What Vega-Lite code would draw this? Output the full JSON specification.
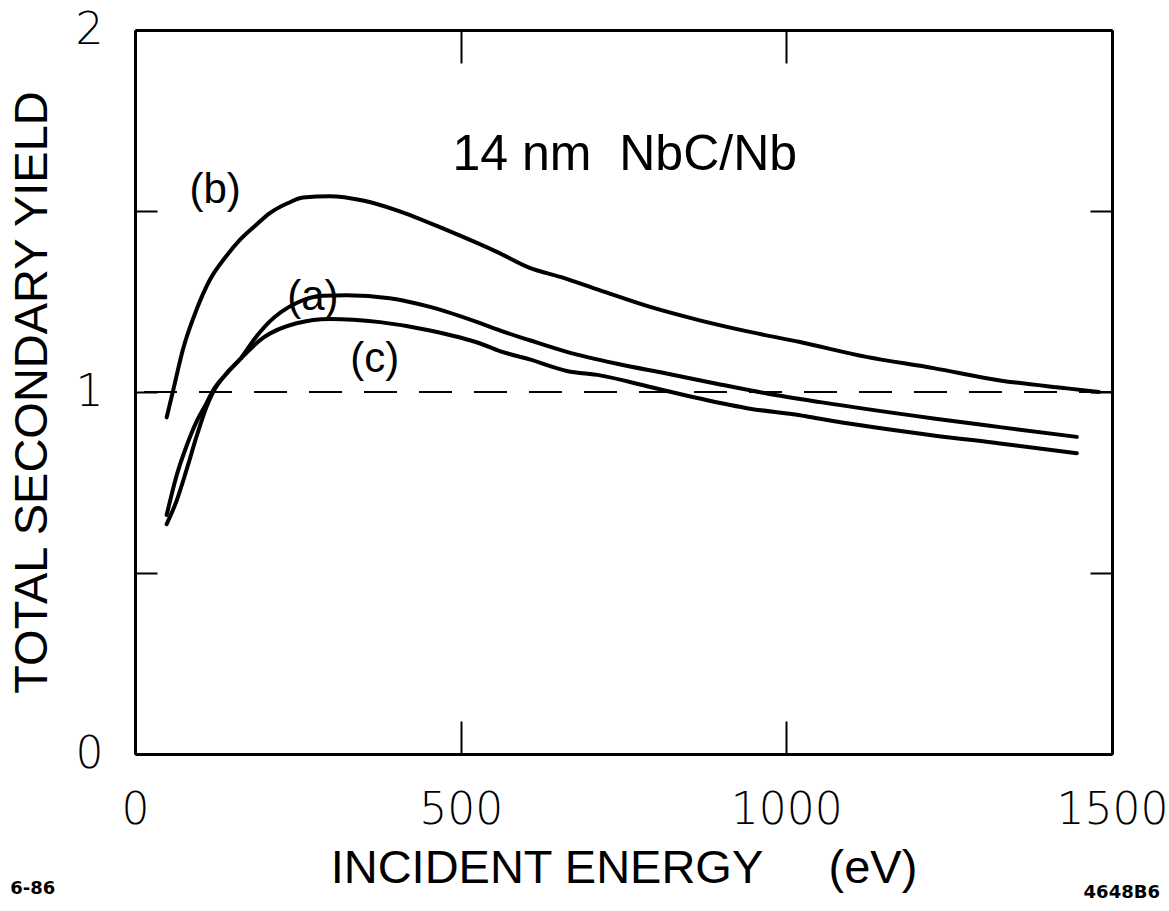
{
  "$schema": "https://vega.github.io/schema/vega-lite/v6.json",
  "width": 977,
  "height": 724,
  "autosize": {"type": "none"},
  "padding": {"left": 135, "top": 30, "right": 57, "bottom": 157},
  "background": "white",
  "config": {
    "view": {"stroke": null},
    "font": "Liberation Sans",
    "axis": {
      "domainColor": "black",
      "domainWidth": 3,
      "tickColor": "black",
      "tickWidth": 2,
      "grid": false,
      "labelFont": "DejaVu Sans",
      "labelFontSize": 44,
      "labelFontWeight": 200,
      "labelColor": "black",
      "labelOverlap": false,
      "titleFont": "Liberation Sans",
      "titleFontSize": 47,
      "titleFontWeight": "normal",
      "titleColor": "black"
    }
  },
  "datasets": {
    "curves": [
      {"curve": "b", "E": 48.6, "Y": 0.93},
      {"curve": "b", "E": 58, "Y": 1.0},
      {"curve": "b", "E": 74, "Y": 1.12},
      {"curve": "b", "E": 95, "Y": 1.23},
      {"curve": "b", "E": 115, "Y": 1.31},
      {"curve": "b", "E": 140, "Y": 1.375},
      {"curve": "b", "E": 161, "Y": 1.42},
      {"curve": "b", "E": 185, "Y": 1.46},
      {"curve": "b", "E": 207, "Y": 1.494},
      {"curve": "b", "E": 235, "Y": 1.522},
      {"curve": "b", "E": 258, "Y": 1.537},
      {"curve": "b", "E": 299, "Y": 1.541},
      {"curve": "b", "E": 350, "Y": 1.529},
      {"curve": "b", "E": 402, "Y": 1.502},
      {"curve": "b", "E": 479, "Y": 1.447},
      {"curve": "b", "E": 558, "Y": 1.385},
      {"curve": "b", "E": 606, "Y": 1.343},
      {"curve": "b", "E": 653, "Y": 1.318},
      {"curve": "b", "E": 714, "Y": 1.281},
      {"curve": "b", "E": 791, "Y": 1.235},
      {"curve": "b", "E": 867, "Y": 1.198},
      {"curve": "b", "E": 944, "Y": 1.166},
      {"curve": "b", "E": 1021, "Y": 1.138},
      {"curve": "b", "E": 1123, "Y": 1.097},
      {"curve": "b", "E": 1226, "Y": 1.066},
      {"curve": "b", "E": 1328, "Y": 1.032},
      {"curve": "b", "E": 1431, "Y": 1.01},
      {"curve": "b", "E": 1480, "Y": 1.0},
      {"curve": "a", "E": 48.6, "Y": 0.635},
      {"curve": "a", "E": 64, "Y": 0.7},
      {"curve": "a", "E": 79, "Y": 0.784},
      {"curve": "a", "E": 95, "Y": 0.88},
      {"curve": "a", "E": 110, "Y": 0.96},
      {"curve": "a", "E": 120, "Y": 1.0},
      {"curve": "a", "E": 140, "Y": 1.05},
      {"curve": "a", "E": 161, "Y": 1.09},
      {"curve": "a", "E": 185, "Y": 1.15},
      {"curve": "a", "E": 207, "Y": 1.195},
      {"curve": "a", "E": 248, "Y": 1.246},
      {"curve": "a", "E": 289, "Y": 1.266},
      {"curve": "a", "E": 325, "Y": 1.267},
      {"curve": "a", "E": 391, "Y": 1.259},
      {"curve": "a", "E": 453, "Y": 1.235},
      {"curve": "a", "E": 530, "Y": 1.19},
      {"curve": "a", "E": 560, "Y": 1.17},
      {"curve": "a", "E": 606, "Y": 1.143},
      {"curve": "a", "E": 663, "Y": 1.111},
      {"curve": "a", "E": 740, "Y": 1.078},
      {"curve": "a", "E": 816, "Y": 1.051},
      {"curve": "a", "E": 893, "Y": 1.023},
      {"curve": "a", "E": 970, "Y": 0.996},
      {"curve": "a", "E": 1052, "Y": 0.972},
      {"curve": "a", "E": 1226, "Y": 0.927},
      {"curve": "a", "E": 1328, "Y": 0.903},
      {"curve": "a", "E": 1446, "Y": 0.876},
      {"curve": "c", "E": 48.6, "Y": 0.66},
      {"curve": "c", "E": 64, "Y": 0.77},
      {"curve": "c", "E": 79, "Y": 0.85},
      {"curve": "c", "E": 95, "Y": 0.92},
      {"curve": "c", "E": 110, "Y": 0.97},
      {"curve": "c", "E": 120, "Y": 1.005},
      {"curve": "c", "E": 140, "Y": 1.05},
      {"curve": "c", "E": 161, "Y": 1.09},
      {"curve": "c", "E": 197, "Y": 1.15},
      {"curve": "c", "E": 248, "Y": 1.19},
      {"curve": "c", "E": 299, "Y": 1.202},
      {"curve": "c", "E": 376, "Y": 1.193},
      {"curve": "c", "E": 453, "Y": 1.17},
      {"curve": "c", "E": 530, "Y": 1.134},
      {"curve": "c", "E": 560, "Y": 1.113},
      {"curve": "c", "E": 606, "Y": 1.09},
      {"curve": "c", "E": 663, "Y": 1.058},
      {"curve": "c", "E": 714, "Y": 1.046},
      {"curve": "c", "E": 791, "Y": 1.014},
      {"curve": "c", "E": 867, "Y": 0.982},
      {"curve": "c", "E": 944, "Y": 0.954},
      {"curve": "c", "E": 1021, "Y": 0.936},
      {"curve": "c", "E": 1052, "Y": 0.926},
      {"curve": "c", "E": 1226, "Y": 0.88},
      {"curve": "c", "E": 1328, "Y": 0.858},
      {"curve": "c", "E": 1446, "Y": 0.831}
    ],
    "labels": [
      {"E": 123, "Y": 1.557, "text": "(b)", "size": 42},
      {"E": 273, "Y": 1.262, "text": "(a)", "size": 42},
      {"E": 368, "Y": 1.09, "text": "(c)", "size": 42},
      {"E": 752, "Y": 1.654, "text": "14 nm\u00a0 NbC/Nb", "size": 50}
    ],
    "notes": [
      {"E": -157, "Y": -0.374, "text": "6-86"},
      {"E": 1515, "Y": -0.385, "text": "4648B6"}
    ],
    "ref": [{"Y": 1}]
  },
  "layer": [
    {
      "data": {"name": "curves"},
      "mark": {"type": "line", "color": "black", "strokeWidth": 4, "interpolate": "monotone", "strokeCap": "round"},
      "encoding": {
        "x": {
          "field": "E", "type": "quantitative",
          "scale": {"domain": [0, 1500], "nice": false, "zero": false},
          "axis": {
            "orient": "bottom",
            "values": [0, 500, 1000, 1500],
            "labelExpr": "format(datum.value, 'd')",
            "tickSize": -33,
            "labelPadding": 67,
            "labelFlush": false,
            "title": "INCIDENT ENERGY\u00a0\u00a0\u00a0\u00a0\u00a0(eV)",
            "titlePadding": 13
          }
        },
        "y": {
          "field": "Y", "type": "quantitative",
          "scale": {"domain": [0, 2], "nice": false, "zero": false},
          "axis": {
            "orient": "left",
            "values": [0, 0.5, 1, 1.5, 2],
            "labelExpr": "datum.value == 0 ? '0' : datum.value == 1 ? '1' : datum.value == 2 ? '2' : ''",
            "tickSize": -22,
            "labelPadding": 54,
            "labelFlush": false,
            "title": "TOTAL SECONDARY YIELD",
            "titlePadding": 19
          }
        },
        "detail": {"field": "curve", "type": "nominal"}
      }
    },
    {
      "data": {"name": "labels"},
      "mark": {"type": "text", "color": "black", "font": "Liberation Sans", "align": "center", "baseline": "middle"},
      "encoding": {
        "x": {
          "field": "E", "type": "quantitative",
          "axis": {"orient": "top", "values": [0, 500, 1000, 1500], "labels": false, "tickSize": -33, "title": null}
        },
        "y": {
          "field": "Y", "type": "quantitative",
          "axis": {"orient": "right", "values": [0, 0.5, 1, 1.5, 2], "labels": false, "tickSize": -22, "title": null}
        },
        "text": {"field": "text"},
        "size": {"field": "size", "type": "quantitative", "scale": null, "legend": null}
      }
    },
    {
      "data": {"name": "ref"},
      "mark": {"type": "rule", "color": "black", "strokeWidth": 2, "strokeDash": [33, 22]},
      "encoding": {
        "y": {"field": "Y", "type": "quantitative", "axis": null}
      }
    },
    {
      "data": {"name": "notes"},
      "mark": {"type": "text", "color": "black", "font": "DejaVu Sans", "fontWeight": "bold", "fontSize": 18, "clip": false, "align": "center", "baseline": "middle"},
      "encoding": {
        "x": {"field": "E", "type": "quantitative", "axis": null},
        "y": {"field": "Y", "type": "quantitative", "axis": null},
        "text": {"field": "text"}
      }
    }
  ],
  "resolve": {"axis": {"x": "independent", "y": "independent"}}
}
